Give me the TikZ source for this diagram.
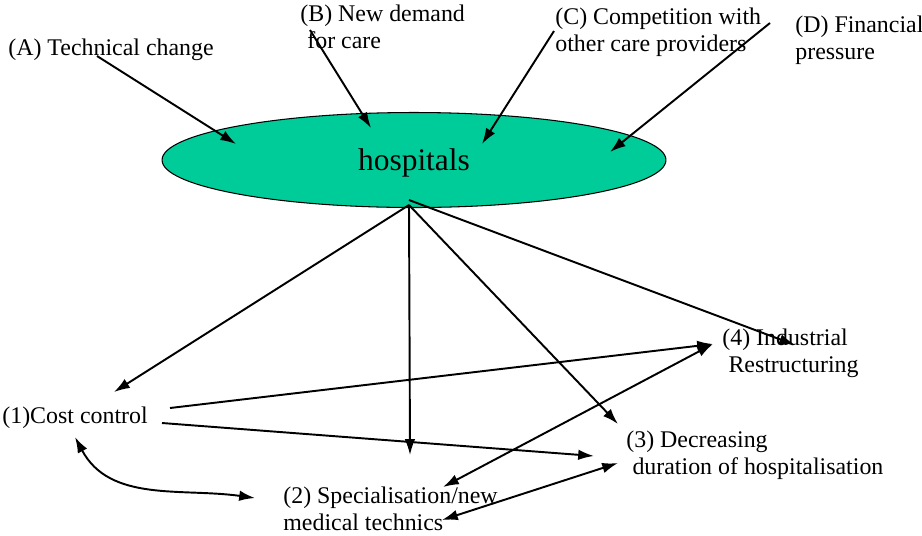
\documentclass[tikz,border=0pt]{standalone}
\usepackage{xcolor}
\usepackage{fontspec}
\setmainfont{Liberation Serif}
\usepackage{tikz}
\usetikzlibrary{positioning,shapes.geometric,arrows.meta}
\definecolor{HospGreen}{HTML}{00CC99}
\tikzset{
  lblnode/.style={align=left,inner sep=0pt,anchor=west,
    font=\fontsize{13.6}{15.6}\selectfont},
  hospnode/.style={ellipse,draw=black,line width=0.6pt,fill=HospGreen,
    minimum width=10.08cm,minimum height=1.9cm,inner sep=0pt,
    text depth=0pt,font=\fontsize{17.9}{20}\selectfont},
  edgeA/.style={line width=1.1pt,-{Latex[length=9pt,width=6pt]}},
  edgeB/.style={line width=1.1pt,{Latex[length=9pt,width=6pt]}-{Latex[length=9pt,width=6pt]}},
}

\begin{document}
\begin{tikzpicture}[x=0.02cm,y=-0.02cm]
  \useasboundingbox (0,0) rectangle (922,535);
  % pressures on the hospitals
  \node[lblnode] (srcA) at (8,50) {(A) Technical change};
  \node[lblnode] (srcB) at (300,27) {(B) New demand\\\hspace*{4pt}for care};
  \node[lblnode] (srcC) at (555,32) {(C) Competition with\\other care providers};
  \node[lblnode] (srcD) at (795,40) {(D) Financial\\pressure};
  \node[hospnode] (hosp) at (414,160) {hospitals};
  % outcomes
  \node[lblnode] (out4) at (722,353) {(4) Industrial\\\hspace*{3.5pt}Restructuring};
  \node[lblnode] (out1) at (2,418) {(1)Cost control};
  \node[lblnode] (out3) at (626,455) {(3) Decreasing\\\hspace*{3.5pt}duration of hospitalisation};
  \node[lblnode] (out2) at (283,509) {(2) Specialisation/new\\medical technics};
  % arrow ends
  \coordinate (tA) at (97,56);   \coordinate (hA) at (236,144);
  \coordinate (tB) at (310,30);  \coordinate (hB) at (371,128);
  \coordinate (tC) at (554,31);  \coordinate (hC) at (482,144);
  \coordinate (tD) at (770,23);  \coordinate (hD) at (610,152);
  \coordinate (hb) at (409,205); \coordinate (hb4) at (409,200);
  \coordinate (e1) at (114,392); \coordinate (e2) at (410,455);
  \coordinate (e3) at (618,424); \coordinate (e4) at (795,345);
  \coordinate (c1a) at (170,408); \coordinate (c1b) at (162,423);
  \coordinate (c4a) at (713,344); \coordinate (c3a) at (594,456);
  \coordinate (c1c) at (75,437);  \coordinate (c2a) at (255,498);
  \coordinate (c2b) at (443,487); \coordinate (c2c) at (442,520);
  \coordinate (c3b) at (618,463);
  \draw[edgeA] (tA) -- (hA);
  \draw[edgeA] (tB) -- (hB);
  \draw[edgeA] (tC) -- (hC);
  \draw[edgeA] (tD) -- (hD);
  \draw[edgeA] (hb) -- (e1);
  \draw[edgeA] (hb) -- (e2);
  \draw[edgeA] (hb) -- (e3);
  \draw[edgeA] (hb4) -- (e4);
  \draw[edgeA] (c1a) -- (c4a);
  \draw[edgeA] (c1b) -- (c3a);
  \draw[edgeB] (c1c) to[out=-62,in=172] (c2a);
  \draw[edgeB] (c2b) -- (c4a);
  \draw[edgeB] (c2c) -- (c3b);
\end{tikzpicture}
\end{document}
